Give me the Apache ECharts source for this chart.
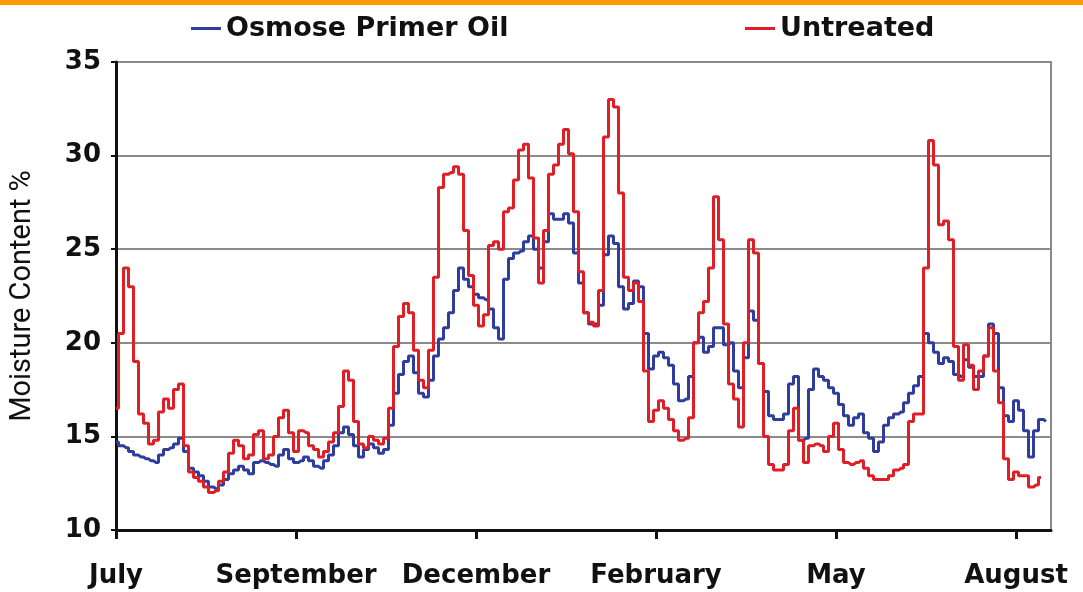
<!DOCTYPE html>
<html>
<head>
<meta charset="utf-8">
<script src="https://cdn.jsdelivr.net/npm/echarts@6/dist/echarts.min.js"></script>
<style>
html,body{margin:0;padding:0;background:#fff;}
#c{width:1083px;height:592px;}
</style>
</head>
<body>
<div id="c"></div>
<script>
// Tick labels (month names) at every 36th sample
const monthLabels = ['July','September','December','February','May','August'];
const ticksEvery = 36;
const totalSamples = 188;

const osmose = [
14.7,14.5,14.4,14.2,14.0,13.9,13.8,13.7,13.6,14.0,14.3,14.4,14.6,14.9,14.2,13.3,13.1,12.9,12.6,12.3,
12.2,12.4,12.7,13.0,13.2,13.4,13.2,13.0,13.6,13.7,13.6,13.5,13.4,14.0,14.3,13.8,13.6,13.7,13.9,13.7,
13.4,13.3,13.7,14.0,14.5,15.2,15.5,15.1,14.5,13.9,14.3,14.6,14.4,14.1,14.3,15.6,17.3,18.3,19.0,19.3,
18.4,17.3,17.1,18.0,19.3,20.2,20.8,21.6,22.8,24.0,23.4,23.0,22.6,22.4,22.3,21.8,20.8,20.2,23.4,24.5,
24.8,24.9,25.4,25.7,25.0,24.0,25.4,26.9,26.6,26.6,26.9,26.4,24.8,23.2,21.6,21.0,21.0,22.0,24.7,25.7,
25.3,23.0,21.8,22.1,23.3,23.0,20.5,18.6,19.3,19.5,19.2,18.8,17.8,16.9,17.0,18.2,20.0,20.3,19.5,19.8,
20.8,20.8,19.9,20.0,18.5,17.6,19.2,21.7,21.2,18.9,17.4,16.1,15.9,15.9,16.2,17.8,18.2,14.8,14.9,17.5,
18.6,18.2,18.0,17.6,17.3,16.7,16.1,15.6,16.0,16.2,15.2,14.9,14.2,14.7,15.6,16.0,16.2,16.3,16.8,17.3,
17.7,18.2,20.5,20.0,19.5,18.9,19.2,19.0,18.3,18.2,19.1,18.7,18.2,18.2,19.3,21.0,20.5,17.6,16.1,15.8,
16.9,16.4,15.3,13.9,15.3,15.9,15.8
];

const untreated = [
16.5,20.5,24.0,23.0,19.0,16.2,15.7,14.6,14.8,16.3,17.0,16.5,17.5,17.8,14.5,13.1,12.8,12.6,12.3,12.0,
12.1,12.6,13.1,14.1,14.8,14.5,13.8,14.0,15.1,15.3,13.8,14.0,15.0,16.0,16.4,15.2,14.2,15.3,15.2,14.5,
14.3,13.9,14.2,14.7,15.2,16.6,18.5,18.0,15.8,14.6,14.4,15.0,14.8,14.6,14.9,16.5,19.8,21.4,22.1,21.6,
19.6,18.0,17.6,19.6,23.5,28.3,29.0,29.1,29.4,29.0,26.0,23.6,22.0,20.9,21.5,25.2,25.4,25.0,27.0,27.2,
28.7,30.3,30.6,28.8,25.6,23.2,26.0,29.0,29.5,30.6,31.4,30.1,27.0,23.8,21.6,21.1,20.9,22.8,31.0,33.0,
32.6,28.0,23.5,22.8,23.2,22.2,18.5,15.8,16.4,16.9,16.5,15.9,15.3,14.8,14.9,16.0,20.0,21.6,22.2,24.0,
27.8,25.5,21.0,17.8,17.0,15.5,20.0,25.5,24.8,18.9,15.0,13.5,13.2,13.2,13.5,15.3,16.5,14.8,13.6,14.5,
14.6,14.5,14.2,15.0,15.7,14.3,13.6,13.5,13.6,13.7,13.3,12.9,12.7,12.7,12.7,12.9,13.2,13.3,13.5,15.8,
16.2,16.2,24.0,30.8,29.5,26.3,26.5,25.5,19.8,18.0,19.9,18.8,17.5,18.5,19.3,20.8,18.5,16.8,13.8,12.7,
13.1,12.9,12.9,12.3,12.4,12.8
];

const categories = [];
for (let i = 0; i < totalSamples; i++) {
  categories.push(i % ticksEvery === 0 ? (monthLabels[i / ticksEvery] || '') : '');
}

const chart = echarts.init(document.getElementById('c'));
const FONT = 'DejaVu Sans';
chart.setOption({
  animation: false,
  backgroundColor: '#ffffff',
  graphic: [{
    type: 'rect', left: 0, top: 0,
    shape: {width: 1083, height: 5},
    style: {fill: '#ff9a00'}
  }],
  legend: [
    {
      data: ['Osmose Primer Oil'], left: 186, top: 10,
      icon: 'rect', itemWidth: 30, itemHeight: 3, itemGap: 6,
      textStyle: {fontFamily: FONT, fontWeight: 'bold', fontSize: 27, color: '#111'}
    },
    {
      data: ['Untreated'], left: 740, top: 10,
      icon: 'rect', itemWidth: 30, itemHeight: 3, itemGap: 6,
      textStyle: {fontFamily: FONT, fontWeight: 'bold', fontSize: 27, color: '#111'}
    }
  ],
  grid: {left: 113, right: 32, top: 62, bottom: 62, containLabel: false,
         show: true, borderColor: '#8a8a8a', borderWidth: 2},
  xAxis: {
    type: 'category',
    data: categories,
    boundaryGap: false,
    axisLine: {lineStyle: {color: '#111', width: 3}},
    axisTick: {
      show: true, length: 9, inside: false,
      lineStyle: {color: '#111', width: 3},
      interval: function (index) { return index % ticksEvery === 0; }
    },
    axisLabel: {
      interval: function (index) { return index % ticksEvery === 0; },
      fontFamily: FONT, fontWeight: 'bold', fontSize: 26, color: '#111', margin: 33
    },
    splitLine: {show: false}
  },
  yAxis: {
    type: 'value', min: 10, max: 35, interval: 5,
    name: 'Moisture Content %', nameLocation: 'middle', nameGap: 79, nameRotate: 90,
    nameTextStyle: {fontFamily: 'Roboto', fontSize: 29, color: '#111'},
    axisLine: {show: true, lineStyle: {color: '#111', width: 3}},
    axisTick: {show: true, length: 5, lineStyle: {color: '#111', width: 2}},
    axisLabel: {fontFamily: FONT, fontWeight: 'bold', fontSize: 26, color: '#111', margin: 15},
    splitLine: {lineStyle: {color: '#8a8a8a', width: 2}}
  },
  series: [
    {
      name: 'Osmose Primer Oil', type: 'line', data: osmose, step: 'middle',
      symbol: 'none', color: '#2f3e9e',
      lineStyle: {width: 3, color: '#2f3e9e'}, z: 3
    },
    {
      name: 'Untreated', type: 'line', data: untreated, step: 'middle',
      symbol: 'none', color: '#e01e26',
      lineStyle: {width: 3, color: '#e01e26'}, z: 4
    }
  ]
});
</script>
</body>
</html>
